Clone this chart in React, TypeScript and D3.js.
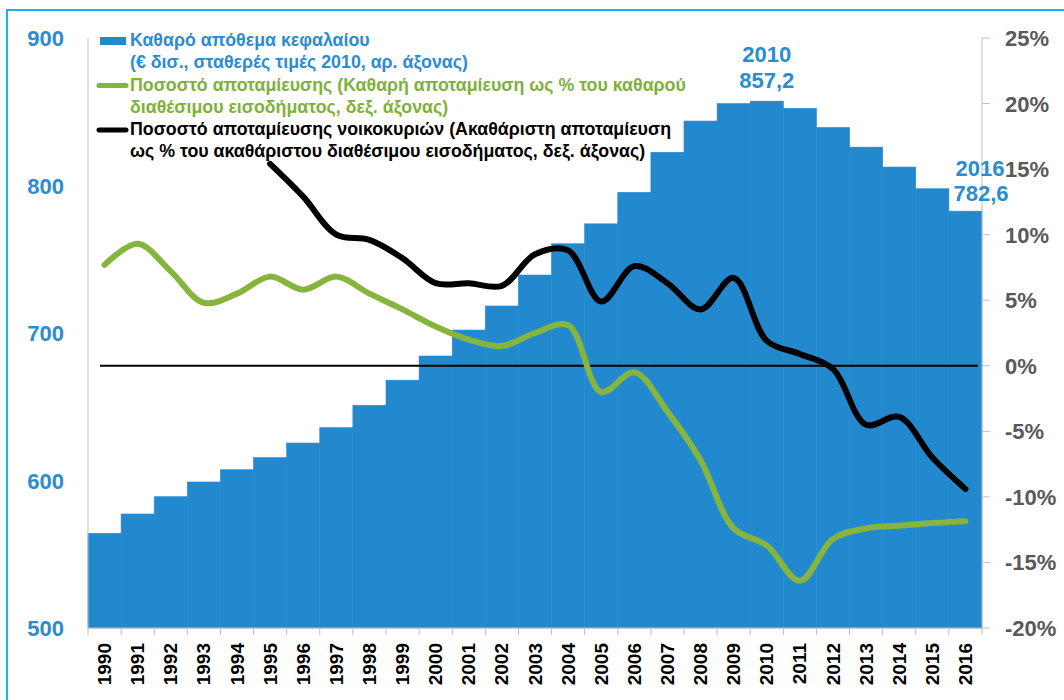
import React from 'react';
import * as d3 from 'd3';

const years = d3.range(1990, 2017).map(String);

// Καθαρό απόθεμα κεφαλαίου (€ δισ., σταθερές τιμές 2010)
const capitalStock = [
  564.2, 577.3, 589.0, 599.0, 607.3, 615.5, 625.4, 635.8, 651.0, 668.0,
  684.4, 702.0, 718.3, 739.3, 760.5, 774.0, 795.3, 822.5, 843.7, 855.5,
  857.2, 852.3, 839.3, 826.0, 812.5, 797.8, 782.6,
];

// Καθαρή αποταμίευση ως % του καθαρού διαθέσιμου εισοδήματος
const netSavingRate = [
  7.7, 9.3, 7.2, 4.8, 5.5, 6.8, 5.8, 6.8, 5.5, 4.3,
  3.0, 2.0, 1.5, 2.5, 3.1, -2.0, -0.5, -3.5, -7.2, -12.4,
  -13.7, -16.4, -13.2, -12.4, -12.2, -12.0, -11.85,
];

// Ακαθάριστη αποταμίευση νοικοκυριών (από 1995)
const grossSavingRate: (number | null)[] = [
  null, null, null, null, null, 15.4, 12.9, 10.0, 9.6, 8.2,
  6.3, 6.3, 6.1, 8.5, 8.8, 4.9, 7.6, 6.3, 4.3, 6.7,
  1.9, 0.9, -0.25, -4.5, -3.9, -7.0, -9.4,
];

const leftTicks = [500, 600, 700, 800, 900];
const rightTicks = [-20, -15, -10, -5, 0, 5, 10, 15, 20, 25];

const legendItems = [
  {
    kind: 'bar',
    color: '#2389cf',
    textColor: '#2b8cd0',
    lines: ['Καθαρό απόθεμα κεφαλαίου', '(€ δισ., σταθερές τιμές 2010, αρ. άξονας)'],
  },
  {
    kind: 'line',
    color: '#86b53e',
    textColor: '#7fb13a',
    lines: ['Ποσοστό αποταμίευσης (Καθαρή αποταμίευση ως % του καθαρού', 'διαθέσιμου εισοδήματος, δεξ. άξονας)'],
  },
  {
    kind: 'line',
    color: '#000000',
    textColor: '#000000',
    lines: ['Ποσοστό αποταμίευσης νοικοκυριών (Ακαθάριστη αποταμίευση', 'ως % του ακαθάριστου διαθέσιμου εισοδήματος, δεξ. άξονας)'],
  },
];

const width = 1064;
const height = 700;
const margin = { top: 38, right: 82, bottom: 72, left: 88 };
const font = '"Liberation Sans", Arial, sans-serif';

const App: React.FC = () => {
  const x = d3.scaleBand<string>()
    .domain(years)
    .range([margin.left, width - margin.right])
    .padding(0);

  const yLeft = d3.scaleLinear().domain([500, 900]).range([height - margin.bottom, margin.top]);
  const yRight = d3.scaleLinear().domain([-20, 25]).range([height - margin.bottom, margin.top]);

  const cx = (i: number) => (x(years[i]) || 0) + x.bandwidth() / 2;

  const lineGen = d3.line<number | null>()
    .defined(d => d !== null)
    .x((_, i) => cx(i))
    .y(d => yRight(d as number))
    .curve(d3.curveCatmullRom.alpha(0.5));

  const x0 = margin.left;
  const x1 = width - margin.right;
  const yBase = height - margin.bottom;

  const iPeak = years.indexOf('2010');
  const iLast = years.length - 1;

  return (
    <svg width={width} height={height} style={{ position: 'absolute', left: 0, top: 0, display: 'block', background: '#fff' }} fontFamily={font}>
      {/* frame */}
      <rect x={7} y={10} width={width + 20} height={height + 20} fill="none" stroke="#1cb0ee" strokeWidth={2} />

      {/* bars */}
      {capitalStock.map((v, i) => (
        <rect
          key={years[i]}
          x={x(years[i])}
          y={yLeft(v)}
          width={x.bandwidth()}
          height={yBase - yLeft(v)}
          fill="#2389cf"
          stroke="#2389cf"
          strokeWidth={0.6}
        />
      ))}

      {/* zero line */}
      <line x1={x0 + 12} x2={x1 - 4} y1={yRight(0)} y2={yRight(0)} stroke="#000" strokeWidth={2} />

      {/* lines */}
      <path d={lineGen(netSavingRate) || ''} fill="none" stroke="#86b53e" strokeWidth={6} strokeLinecap="round" strokeLinejoin="round" />
      <path d={lineGen(grossSavingRate) || ''} fill="none" stroke="#000" strokeWidth={6} strokeLinecap="round" strokeLinejoin="round" />

      {/* axes */}
      <line x1={x0} x2={x0} y1={margin.top} y2={yBase} stroke="#bfbfbf" strokeWidth={1} />
      <line x1={x1} x2={x1} y1={margin.top} y2={yBase} stroke="#bfbfbf" strokeWidth={1} />
      <line x1={x0} x2={x1} y1={yBase} y2={yBase} stroke="#bfbfbf" strokeWidth={1} />

      {years.map(y => (
        <line key={'t' + y} x1={x(y)} x2={x(y)} y1={yBase} y2={yBase + 7} stroke="#bfbfbf" strokeWidth={1} />
      ))}
      <line x1={x1} x2={x1} y1={yBase} y2={yBase + 7} stroke="#bfbfbf" strokeWidth={1} />

      {years.map((y, i) => (
        <text
          key={'l' + y}
          transform={`translate(${cx(i)},${yBase + 15}) rotate(-90)`}
          textAnchor="end"
          dominantBaseline="central"
          fontSize={19}
          fontWeight="bold"
          fill="#000"
        >
          {y}
        </text>
      ))}

      {leftTicks.map(t => (
        <text key={'yl' + t} x={64} y={yLeft(t) + 8} textAnchor="end" fontSize={22} fontWeight="bold" fill="#2b8cd0">
          {t}
        </text>
      ))}

      {rightTicks.map(t => (
        <g key={'yr' + t}>
          <line x1={x1} x2={x1 + 8} y1={yRight(t)} y2={yRight(t)} stroke="#bfbfbf" strokeWidth={1} />
          <text x={1005} y={yRight(t) + 8} textAnchor="start" fontSize={22} fontWeight="bold" fill="#595959">
            {t + '%'}
          </text>
        </g>
      ))}

      {/* annotations */}
      <text x={cx(iPeak)} y={62} textAnchor="middle" fontSize={22} fontWeight="bold" fill="#2b8cd0">{years[iPeak]}</text>
      <text x={cx(iPeak)} y={88} textAnchor="middle" fontSize={22} fontWeight="bold" fill="#2b8cd0">
        {capitalStock[iPeak].toFixed(1).replace('.', ',')}
      </text>
      <text x={980} y={176} textAnchor="middle" fontSize={22} fontWeight="bold" fill="#2b8cd0">{years[iLast]}</text>
      <text x={981} y={201} textAnchor="middle" fontSize={22} fontWeight="bold" fill="#2b8cd0">
        {capitalStock[iLast].toFixed(1).replace('.', ',')}
      </text>

      {/* legend */}
      {legendItems.map((item, k) => {
        const base = 46 + k * 44.5;
        return (
          <g key={'lg' + k}>
            {item.kind === 'bar' ? (
              <rect x={100} y={base - 9} width={26} height={8} fill={item.color} />
            ) : (
              <line x1={99} x2={126} y1={base - 5} y2={base - 5} stroke={item.color} strokeWidth={5} strokeLinecap="round" />
            )}
            {item.lines.map((ln, j) => (
              <text key={j} x={130} y={base + j * 22.2} fontSize={17.8} fontWeight="bold" fill={item.textColor}>
                {ln}
              </text>
            ))}
          </g>
        );
      })}
    </svg>
  );
};

export default App;
